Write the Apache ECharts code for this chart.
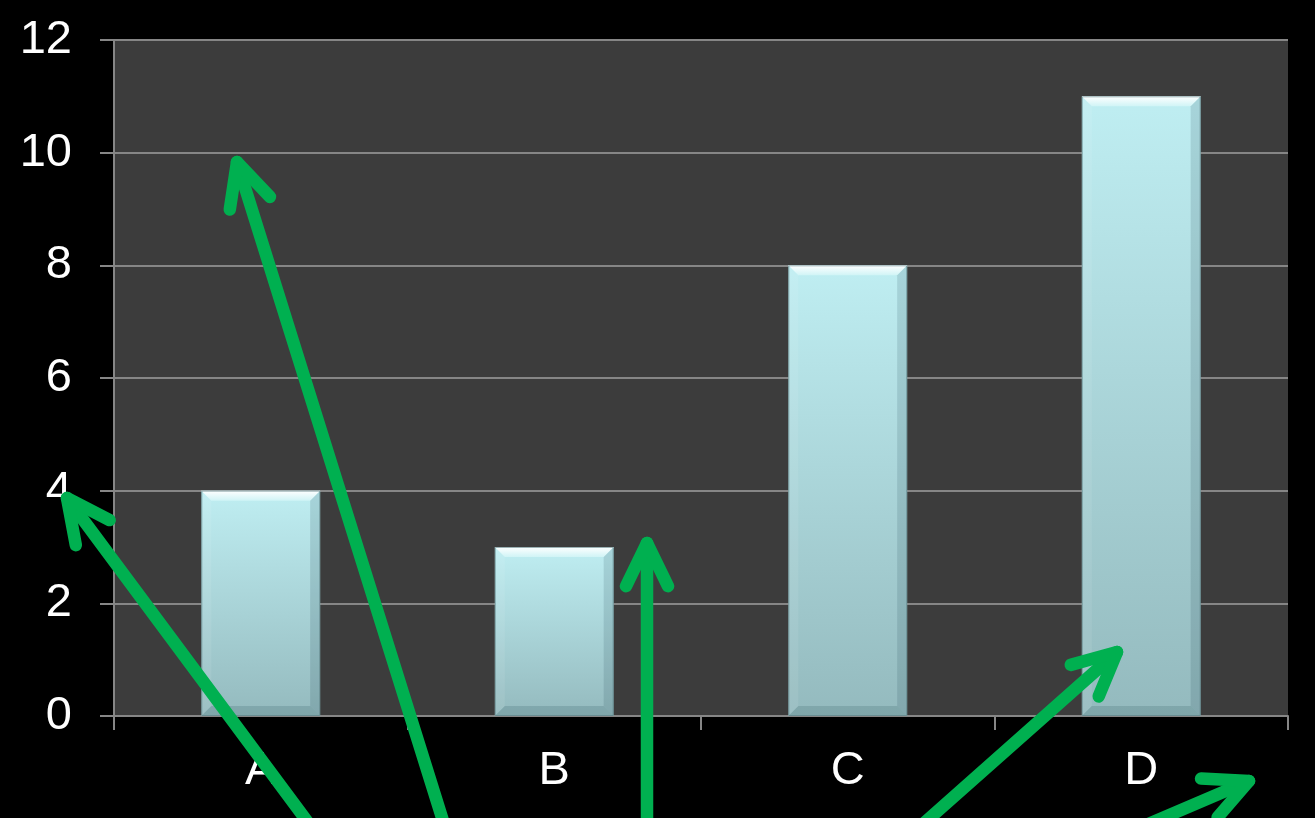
<!DOCTYPE html>
<html>
<head>
<meta charset="utf-8">
<script src="https://cdn.jsdelivr.net/npm/echarts@6/dist/echarts.min.js"></script>
<style>
html,body{margin:0;padding:0;background:#000;}
#c{width:1315px;height:818px;}
</style>
</head>
<body>
<div id="c"></div>
<script>
var categories = ['A', 'B', 'C', 'D'];
var values = [4, 3, 8, 11];
var yMin = 0, yMax = 12, yStep = 2;

// annotation arrows: [tailX, tailY, tipX, tipY] in page pixels
var arrows = [
  [321, 840, 67, 498],
  [449, 840, 237, 162],
  [647, 840, 647, 543],
  [905, 840, 1117, 652],
  [1111, 840, 1249, 781]
];

var chart = echarts.init(document.getElementById('c'));

function arrowGraphics() {
  var out = [];
  var len = 48, half = 26 * Math.PI / 180;
  arrows.forEach(function (a) {
    var ang = Math.atan2(a[1] - a[3], a[0] - a[2]);
    var w1 = [a[2] + len * Math.cos(ang - half), a[3] + len * Math.sin(ang - half)];
    var w2 = [a[2] + len * Math.cos(ang + half), a[3] + len * Math.sin(ang + half)];
    var st = { stroke: '#00b050', lineWidth: 12.5, lineCap: 'round', lineJoin: 'round', fill: null };
    out.push({ type: 'polyline', z: 100, shape: { points: [[a[0], a[1]], [a[2], a[3]]] }, style: st });
    out.push({ type: 'polyline', z: 100, shape: { points: [w1, [a[2], a[3]], w2] }, style: st });
  });
  return out;
}

var barData = values.map(function (v, i) { return [i, v]; });

chart.setOption({
  backgroundColor: '#000000',
  animation: false,
  grid: {
    left: 114, right: 27, top: 40, bottom: 102,
    show: true, backgroundColor: '#3c3c3c', borderWidth: 0
  },
  xAxis: {
    type: 'category',
    data: categories,
    boundaryGap: true,
    axisLine: { show: true, lineStyle: { color: '#868686', width: 2 } },
    axisTick: { show: true, length: 14, inside: false, lineStyle: { color: '#868686', width: 2 } },
    axisLabel: { color: '#ffffff', fontSize: 47, fontFamily: 'Liberation Sans, Arial, sans-serif', margin: 32 },
    splitLine: { show: false }
  },
  yAxis: {
    type: 'value',
    min: yMin, max: yMax, interval: yStep,
    axisLine: { show: true, lineStyle: { color: '#868686', width: 2 } },
    axisTick: { show: true, length: 14, inside: false, lineStyle: { color: '#868686', width: 2 } },
    axisLabel: { color: '#ffffff', fontSize: 47, fontFamily: 'Liberation Sans, Arial, sans-serif', margin: 42 },
    splitLine: { show: true, lineStyle: { color: '#868686', width: 2 } }
  },
  series: [{
    type: 'custom',
    data: barData,
    encode: { x: 0, y: 1 },
    renderItem: function (params, api) {
      var top = api.coord([api.value(0), api.value(1)]);
      var base = api.coord([api.value(0), 0]);
      var w = api.size([1, 0])[0] * 0.405;
      var x0 = top[0] - w / 2, x1 = top[0] + w / 2, y0 = top[1], y1 = base[1];
      var b = 10;
      return {
        type: 'group',
        children: [
          { type: 'rect', shape: { x: x0, y: y0, width: w, height: y1 - y0 },
            style: { fill: new echarts.graphic.LinearGradient(0, 0, 0, 1, [
              { offset: 0, color: '#bfeef2' }, { offset: 1, color: '#94babe' }]) } },
          { type: 'polygon', shape: { points: [[x0, y0], [x1, y0], [x1 - b, y0 + b], [x0 + b, y0 + b]] },
            style: { fill: new echarts.graphic.LinearGradient(0, 0, 0, 1, [
              { offset: 0, color: '#ffffff' }, { offset: 1, color: '#d0f4f6' }]) } },
          { type: 'polygon', shape: { points: [[x0, y0], [x0 + b, y0 + b], [x0 + b, y1 - b], [x0, y1]] },
            style: { fill: 'rgba(255,255,255,0.08)' } },
          { type: 'polygon', shape: { points: [[x1, y0], [x1 - b, y0 + b], [x1 - b, y1 - b], [x1, y1]] },
            style: { fill: 'rgba(20,60,70,0.14)' } },
          { type: 'polygon', shape: { points: [[x0, y1], [x0 + b, y1 - b], [x1 - b, y1 - b], [x1, y1]] },
            style: { fill: 'rgba(20,60,70,0.16)' } },
          { type: 'rect', shape: { x: x0 + 0.5, y: y0 + 0.5, width: w - 1, height: y1 - y0 - 1 },
            style: { fill: null, stroke: 'rgba(90,125,130,0.6)', lineWidth: 1 } }
        ]
      };
    }
  }],
  graphic: arrowGraphics()
});
</script>
</body>
</html>
